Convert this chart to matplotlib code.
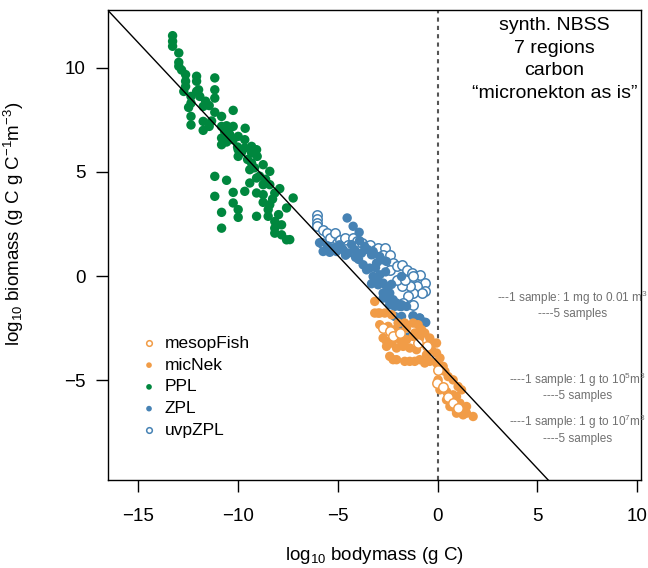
import matplotlib
matplotlib.use("Agg")
import matplotlib.pyplot as plt

plt.rcParams['font.family'] = ['Liberation Sans', 'DejaVu Sans']
plt.rcParams['mathtext.fontset'] = 'custom'
plt.rcParams['mathtext.rm'] = 'Liberation Sans'
plt.rcParams['mathtext.default'] = 'regular'

# PPL (phytoplankton)
ppl_x = [-13.25, -13.25, -13.25, -12.94, -12.94, -12.94, -12.6, -12.6, -12.6, -12.69,
         -12.05, -12.05, -12.05, -11.14, -11.14, -11.14, -12.33, -12.33, -11.89, -11.72,
         -11.42, -12.33, -12.33, -11.72, -11.72, -11.42, -11.14, -10.8, -10.22, -10.8,
         -10.55, -10.22, -10.39, -9.62, -10.8, -10.8, -10.55, -9.97, -10.22, -9.64,
         -9.97, -9.97, -9.64, -9.3, -9.05, -9.3, -9.3, -9.02, -8.72, -8.39,
         -9.39, -11.14, -10.55, -11.14, -10.22, -9.64, -9.39, -9.05, -8.72, -8.39,
         -7.89, -7.22, -9.05, -8.72, -8.72, -8.39, -10.22, -9.97, -9.97, -10.8,
         -10.8, -9.05, -8.47, -8.47, -8.14, -8.14, -7.8, -8.14, -7.8, -7.55,
         -7.55, -8.14, -7.39, -12.8, -11.6, -10.0, -9.5, -8.9,
         -12.45, -11.3, -10.65, -9.8, -9.15, -8.6, -8.25, -7.95, -10.45, -11.95]
ppl_y = [11.55, 11.28, 11.04, 10.72, 10.27, 10.08, 9.68, 9.36, 9.11, 8.87,
         9.6, 9.36, 8.87, 9.52, 8.95, 8.55, 8.63, 8.31, 8.63, 8.15,
         8.19, 7.67, 7.26, 7.43, 7.0, 7.19, 7.87, 7.67, 7.96, 7.19,
         7.22, 7.19, 6.79, 7.1, 6.63, 6.31, 6.44, 6.71, 6.55, 6.55,
         6.07, 5.75, 6.15, 6.23, 6.07, 5.91, 5.43, 5.75, 5.35, 5.03,
         5.11, 4.79, 4.6, 3.83, 4.02, 4.07, 4.47, 4.71, 4.39, 4.39,
         4.2, 3.75, 3.99, 3.91, 3.54, 3.43, 3.51, 3.19, 2.82, 3.06,
         2.3, 2.87, 3.19, 2.87, 2.62, 2.3, 2.46, 2.06, 1.98, 1.74,
         3.27, 3.99, 1.75, 9.9, 8.4, 6.2, 5.6, 4.8,
         8.1, 7.45, 6.95, 5.95, 5.2, 4.65, 3.7, 2.95, 6.9, 8.95]

# ZPL (filled)
zpl_x = [-4.52, -4.22, -3.92, -5.72, -5.39, -5.05, -4.72, -4.47, -4.3, -4.14,
         -3.8, -3.64, -3.47, -3.3, -3.22, -2.89, -2.8, -2.55, -3.72, -3.55,
         -3.39, -3.05, -3.22, -3.05, -2.89, -2.72, -2.55, -2.39, -2.22, -2.05,
         -1.89, -2.39, -1.55, -1.8, -1.8, -1.22, -0.89, -0.59, -1.55, -1.8,
         -3.3, -2.97, -2.72, -2.72, -2.39, -2.39, -2.14, -1.8, -2.14, -1.8,
         -1.22, -0.89, -0.64, -1.8, -1.47, -5.9, -5.5, -4.9, -4.1, -3.9,
         -5.2, -4.6, -3.95, -3.1, -2.6, -2.3]
zpl_y = [2.79, 2.39, 2.1, 1.18, 1.14, 1.18, 1.26, 1.1, 1.51, 1.26,
         1.1, 1.42, 1.26, 1.02, 1.18, 0.94, 0.78, 0.7, 0.54, 0.3,
         0.38, 0.62, -0.02, -0.18, 0.06, -0.34, -0.5, -0.82, -1.14, -1.3,
         -1.46, -1.14, -1.46, -0.02, -1.38, -1.94, -2.02, -2.23, -2.98, -2.58,
         -0.37, -0.42, -0.82, -1.06, -1.22, -1.38, -1.46, -1.46, -1.94, -1.94,
         -1.91, -2.02, -2.23, -2.58, -2.93, 1.6, 1.45, 1.5, 0.9, 1.7,
         1.35, 1.0, 0.8, 0.4, 0.2, -0.4]

# uvpZPL (open)
uvp_x = [-6.05, -6.05, -6.05, -6.02, -5.72, -5.8, -5.55, -5.39, -5.14, -5.05,
         -4.89, -4.64, -4.47, -4.22, -4.05, -3.97, -3.8, -3.55, -3.39, -3.14,
         -2.97, -2.64, -2.72, -2.39, -2.22, -2.39, -2.05, -1.8, -1.55, -1.3,
         -1.05, -0.89, -0.64, -0.64, -1.05, -0.8, -1.22, -1.47, -1.39, -1.8,
         -2.05, -1.64, -1.22, -1.72, -1.22, -5.3, -4.6, -3.3]
uvp_y = [2.95, 2.74, 2.55, 2.39, 2.23, 1.59, 2.07, 1.83, 2.07, 1.59,
         1.75, 1.83, 1.51, 1.83, 1.67, 1.42, 1.58, 1.42, 1.5, 1.26,
         1.34, 1.34, 1.02, 1.02, 0.62, 0.3, 0.46, 0.54, 0.3, 0.14,
         -0.02, 0.06, -0.34, -0.74, -0.5, -0.82, -0.82, -0.98, -0.5, -0.5,
         -0.18, -0.18, -1.38, -1.3, -0.02, 1.4, 1.3, 1.1]

# micNek (filled)
mic_x = [-3.14, -2.97, -2.64, -2.3, -1.97, -1.64, -1.22, -0.97, -0.8, -0.64,
         -0.39, -0.22, -0.3, -0.05, 0.12, -0.05, 0.2, 0.37, 0.53, 0.78,
         1.03, 1.2, 0.95, 1.12, 1.45, 1.78, 1.28, 0.87, -2.72, -2.55,
         -2.39, -2.22, -2.05, -1.64, -1.39, -1.14, -0.89, -0.64, -0.39, -0.55,
         -1.05, -1.39, -1.72, -2.05, -2.3, -2.55, -1.89, -1.55, -1.22, -0.89,
         -1.55, -1.14, -2.14, -2.47, -2.89, -0.05, 0.28, 0.03, 0.12, 0.45,
         0.78, 0.45, 0.62, 0.95, 1.45, -3.14, -2.89]
mic_y = [-1.22, -1.78, -1.78, -1.86, -2.26, -2.26, -2.26, -2.34, -2.58, -2.74,
         -2.98, -3.22, -3.54, -3.7, -3.94, -4.18, -4.5, -4.58, -4.83, -4.99,
         -5.31, -5.47, -5.79, -6.11, -6.27, -6.75, -6.67, -6.35, -2.98, -3.38,
         -3.86, -4.02, -4.02, -4.1, -4.1, -4.1, -4.02, -4.18, -4.1, -3.78,
         -3.54, -3.46, -3.38, -3.46, -3.22, -3.14, -3.06, -3.06, -2.9, -2.98,
         -2.5, -2.74, -2.58, -2.42, -2.34, -3.22, -4.34, -4.99, -5.47, -5.55,
         -5.71, -5.95, -6.27, -6.59, -6.59, -1.78, -1.78]

# mesopFish (open)
mes_x = [-2.72, -2.39, -2.22, -1.89, -0.97, -0.55, 0.03, -0.05, 0.53, 0.78, 1.03, 0.28]
mes_y = [-2.5, -2.66, -2.9, -2.74, -3.22, -3.38, -4.5, -5.15, -5.79, -6.11, -6.35, -5.31]

# fitted line
slope = -1.025
intercept = -4.13
line_x = [-17, 7]

col_ppl = '#00873E'
col_zpl = '#4682B4'
col_mic = '#F19C47'

fig = plt.figure(figsize=(6.48, 5.68), dpi=100)
ax = fig.add_axes([0.167, 0.155, 0.822, 0.828])

s = 46
ax.scatter(ppl_x, ppl_y, s=s, color=col_ppl, edgecolors='none', label='PPL', zorder=2)
ax.scatter(uvp_x, uvp_y, s=s, facecolors='white', edgecolors=col_zpl, linewidths=1.1, label='uvpZPL', zorder=2)
ax.scatter(zpl_x, zpl_y, s=s, color=col_zpl, edgecolors='none', label='ZPL', zorder=3)
ax.scatter(mic_x, mic_y, s=s, color=col_mic, edgecolors='none', label='micNek', zorder=3)
ax.scatter(mes_x, mes_y, s=s, facecolors='white', edgecolors=col_mic, linewidths=1.1, label='mesopFish', zorder=4)

ax.plot(line_x, [slope * v + intercept for v in line_x], color='black', lw=1, zorder=5)
ax.axvline(0, color='#555555', lw=1.5, linestyle=(0, (2, 2)), zorder=1)

ax.set_xlim(-16.47, 10.17)
ax.set_ylim(-9.8, 12.8)
ax.set_xticks([-15, -10, -5, 0, 5, 10])
ax.set_yticks([-5, 0, 5, 10])
ax.tick_params(direction='out', length=8.5, width=1, labelsize=13.5, pad=8)
ax.tick_params(axis='x', pad=12)
for sp in ax.spines.values():
    sp.set_linewidth(1)

ax.set_xlabel('log$_{10}$ bodymass (g C)', fontsize=13.5)
ax.set_ylabel('log$_{10}$ biomass (g C g C$^{-1}$m$^{-3}$)', fontsize=13.5)
ax.xaxis.set_label_coords(0.5, -0.138)
ax.yaxis.set_label_coords(-0.155, 0.545)

ax.text(0.838, 0.985, 'synth. NBSS\n7 regions\ncarbon\n\u201cmicronekton as is\u201d',
        transform=ax.transAxes, ha='center', va='top', fontsize=14, linespacing=1.45)

grey = '#707070'
ax.text(6.75, -1.36, '---1 sample: 1 mg to 0.01 m$^3$\n----5 samples', ha='center', va='center',
        fontsize=8.5, color=grey, linespacing=1.15)
ax.text(7.0, -5.3, '----1 sample: 1 g to 10$^5$m$^3$\n----5 samples', ha='center', va='center',
        fontsize=8.5, color=grey, linespacing=1.15)
ax.text(7.0, -7.34, '----1 sample: 1 g to 10$^7$m$^3$\n----5 samples', ha='center', va='center',
        fontsize=8.5, color=grey, linespacing=1.15)

handles, labels = ax.get_legend_handles_labels()
order = [labels.index(n) for n in ['mesopFish', 'micNek', 'PPL', 'ZPL', 'uvpZPL']]
ax.legend([handles[i] for i in order], [labels[i] for i in order],
          loc='upper left', bbox_to_anchor=(0.044, 0.325), frameon=False, fontsize=12.5,
          markerscale=0.6, handletextpad=0.4, handlelength=1.0, labelspacing=0.38, borderpad=0)

fig.savefig('out.png', dpi=100)
